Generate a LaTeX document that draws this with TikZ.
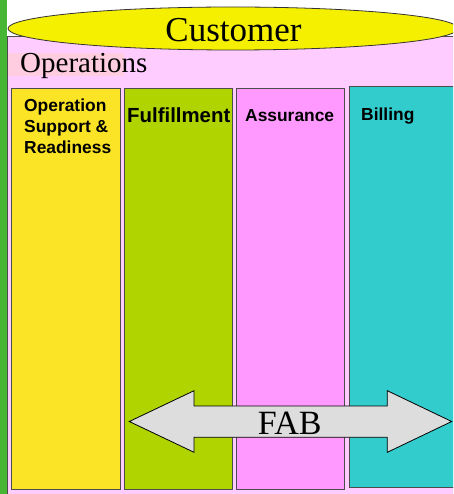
\documentclass[tikz,border=0pt]{standalone}
\usepackage{fontspec}
\setmainfont{Liberation Serif}
\newfontfamily\arialfont{Liberation Sans}
\definecolor{pinkbg}{HTML}{FFCCFF}
\definecolor{hilite}{HTML}{FFCCE0}
\definecolor{ellfill}{HTML}{F4F000}
\definecolor{colyellow}{HTML}{FBE426}
\definecolor{colgreen}{HTML}{AFD400}
\definecolor{colmagenta}{HTML}{FF99FF}
\definecolor{colcyan}{HTML}{33CCCC}
\definecolor{stripgreen}{HTML}{46B634}
\definecolor{arrowgray}{HTML}{DDDDDD}
\begin{document}
\begin{tikzpicture}[x=1pt,y=-1pt,
  column/.style={draw=black!70,line width=1pt,anchor=north west,inner sep=0pt},
  coltext/.style={font=\arialfont\bfseries\fontsize{17.4}{21}\selectfont,anchor=base west,inner sep=0pt,align=left},
  bigserif/.style={inner sep=0pt}]
\useasboundingbox (0,0) rectangle (453,494);
\clip (0,0) rectangle (453,494);
\fill[white] (0,0) rectangle (453,494);
% green strip
\fill[stripgreen] (0,0) rectangle (6.5,494);
% operations area
\node[draw=black!70,line width=1pt,fill=pinkbg,anchor=north west,inner sep=0pt,
  minimum width=460,minimum height=470] (opsarea) at (7,36) {};
\fill[hilite] (8,53) rectangle (124,76);
\node[bigserif,anchor=base west,font=\fontsize{29}{34}\selectfont] (opslabel) at (20,73) {Operations};
% customer ellipse
\draw[draw=black!80,line width=0.8pt,fill=ellfill] (233,28.5) ellipse [x radius=225,y radius=21.5];
\node[bigserif,font=\fontsize{35}{40}\selectfont,anchor=base] (customer) at (233.5,42) {Customer};
% columns
\node[column,fill=colyellow,minimum width=109,minimum height=401] (osr) at (10.5,88) {};
\node[column,fill=colgreen,minimum width=108,minimum height=401] (ful) at (123.5,88) {};
\node[column,fill=colmagenta,minimum width=108.5,minimum height=401] (asu) at (235.5,88) {};
\node[column,fill=colcyan,minimum width=120,minimum height=400.5] (bil) at (348.5,86.5) {};
% column labels
\node[coltext,anchor=north west] (osrtext) at (24,98.5) {Operation\\Support \&\\Readiness};
\node[coltext,font=\arialfont\bfseries\fontsize{20.4}{24}\selectfont] (fultext) at (127,122.7) {Fulfillment};
\node[coltext] (asutext) at (245,121.7) {Assurance};
\node[coltext] (biltext) at (361,120.7) {Billing};
% FAB double arrow
\draw[black,line width=0.8pt,fill=arrowgray,line join=miter]
  (129.3,421.5) -- (194,390.7) -- (194,406) -- (387.3,406) -- (387.3,390.7)
  -- (451.7,421.5) -- (387.3,452.3) -- (387.3,437.3) -- (194,437.3) -- (194,452.3) -- cycle;
\node[bigserif,font=\fontsize{34}{40}\selectfont,anchor=base] (fab) at (289.7,434.3) {FAB};
\end{tikzpicture}
\end{document}
